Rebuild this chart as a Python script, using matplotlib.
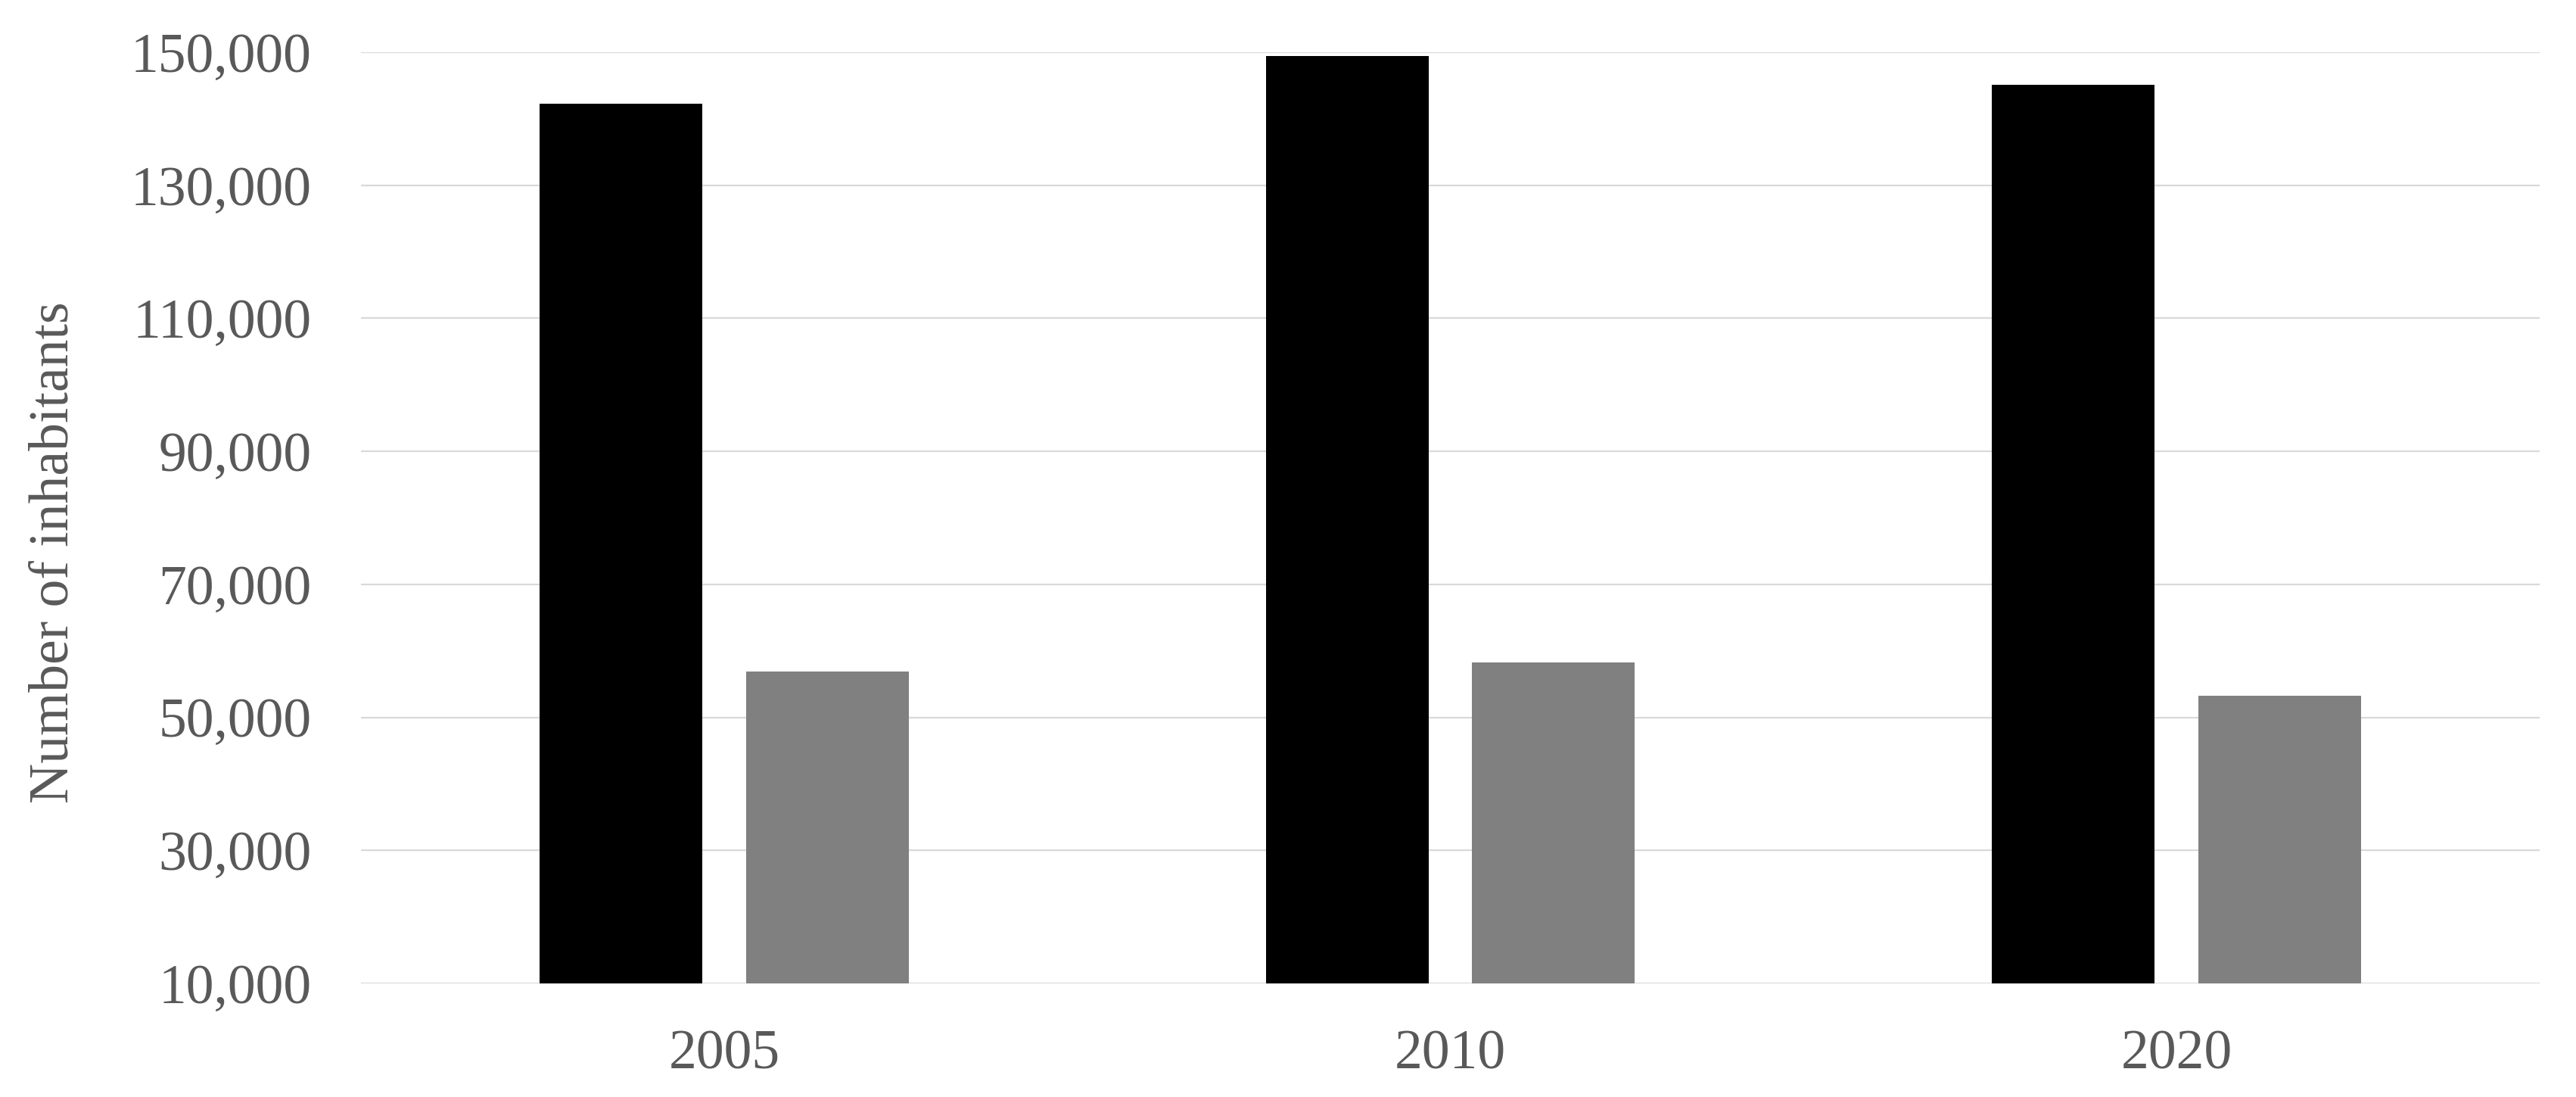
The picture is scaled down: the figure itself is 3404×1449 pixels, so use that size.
import matplotlib
matplotlib.use("Agg")
import matplotlib.pyplot as plt
from matplotlib.ticker import FuncFormatter
import numpy as np

years = ["2005", "2010", "2020"]
series_a = [142300, 149400, 145100]   # black bars
series_b = [56900, 58300, 53200]      # grey bars
y_ticks = [10000, 30000, 50000, 70000, 90000, 110000, 130000, 150000]
y_label = "Number of inhabitants"

plt.rcParams['font.family'] = ['Liberation Serif', 'DejaVu Serif']
text_color = "#595959"

fig = plt.figure(figsize=(34.04, 14.49), dpi=100)
ax = fig.add_axes([477/3404, 150/1449, (3356-477)/3404, (1299-69)/1449])

x = np.arange(len(years))
w = 0.224
off = 0.142
ax.bar(x - off, series_a, width=w, color="#000000", zorder=3)
ax.bar(x + off, series_b, width=w, color="#808080", zorder=3)

ax.set_xlim(-0.5, len(years) - 0.5)
ax.set_ylim(10000, 150000)
ax.set_yticks(y_ticks)
ax.yaxis.set_major_formatter(FuncFormatter(lambda v, p: f"{int(v):,}"))
ax.set_xticks(x)
ax.set_xticklabels(years)

ax.grid(axis="y", color="#d9d9d9", linewidth=1.6, zorder=0)
ax.grid(axis="x", visible=False)
for s in ax.spines.values():
    s.set_visible(False)

ax.tick_params(axis="y", length=0, pad=47, labelsize=53, labelcolor=text_color)
ax.tick_params(axis="x", length=0, pad=44, labelsize=53, labelcolor=text_color)

fig.text(72/3404, (1449-730)/1449, y_label, rotation=90, ha="center", va="center",
         fontsize=53, color=text_color)

fig.savefig("out.png", dpi=100, facecolor="white")
